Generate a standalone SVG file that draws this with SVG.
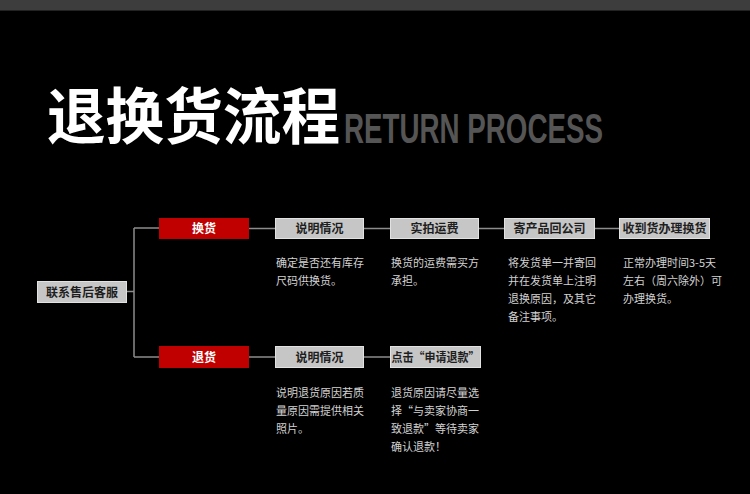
<svg xmlns="http://www.w3.org/2000/svg" width="750" height="494" viewBox="0 0 750 494">
<style>
.bg{fill:#000}
.gbox{fill:#c6c6c6;stroke:#e2e2e2;stroke-width:1}
.rbox{fill:#c00000}
.glbl{font-family:"Noto Sans CJK SC","Liberation Sans",sans-serif;font-size:12px;font-weight:bold;fill:#1e1e1e;text-anchor:middle}
.rlbl{font-family:"Noto Sans CJK SC","Liberation Sans",sans-serif;font-size:12px;font-weight:bold;fill:#fff;text-anchor:middle}
.desc{font-family:"Noto Sans CJK SC","Liberation Sans",sans-serif;font-size:11px;fill:#d2d2d2}
.conn{fill:none;stroke:#8c8c8c;stroke-width:1.5}
</style>
<rect class="bg" x="0" y="0" width="750" height="494"/>
<rect x="0" y="0" width="750" height="10" fill="#3d3d3d"/>
<rect x="0" y="10" width="750" height="1" fill="#222"/>
<g id="title">
<text x="47" y="139" font-family="Noto Sans CJK SC,sans-serif" font-size="61" font-weight="bold" fill="#fff" textLength="293" lengthAdjust="spacingAndGlyphs">退换货流程</text>
<text x="344" y="143" font-family="Liberation Sans,sans-serif" font-size="43" font-weight="bold" fill="#555" textLength="259" lengthAdjust="spacingAndGlyphs">RETURN PROCESS</text>
</g>
<g id="connectors">
<path class="conn" d="M127 291.5H134M134 228V357M134 228H159M134 357H159"/>
<path class="conn" d="M249 228.5H275M364 228.5H390M479 228.5H504M595 228.5H619"/>
<path class="conn" d="M249 357H275M364 357H390"/>
</g>
<g id="n-contact"><rect class="gbox" x="37.5" y="281.5" width="89" height="21"/><text class="glbl" x="82" y="296.5">联系售后客服</text></g>
<g id="n-exchange"><rect class="rbox" x="159" y="218" width="90" height="21"/><text class="rlbl" x="204" y="233">换货</text></g>
<g id="n-return"><rect class="rbox" x="159" y="346" width="90" height="22"/><text class="rlbl" x="204" y="361.5">退货</text></g>
<g id="n-ex-explain"><rect class="gbox" x="275.5" y="218.5" width="88" height="20"/><text class="glbl" x="319.5" y="233">说明情况</text>
<text class="desc"><tspan x="276" y="267">确定是否还有库存</tspan><tspan x="276" y="285">尺码供换货。</tspan></text></g>
<g id="n-ex-ship"><rect class="gbox" x="390.5" y="218.5" width="88" height="20"/><text class="glbl" x="434.5" y="233">实拍运费</text>
<text class="desc"><tspan x="391" y="267">换货的运费需买方</tspan><tspan x="391" y="285">承担。</tspan></text></g>
<g id="n-ex-send"><rect class="gbox" x="504.5" y="218.5" width="90" height="20"/><text class="glbl" x="549.5" y="233">寄产品回公司</text>
<text class="desc"><tspan x="508" y="267">将发货单一并寄回</tspan><tspan x="508" y="285">并在发货单上注明</tspan><tspan x="508" y="303">退换原因，及其它</tspan><tspan x="508" y="321">备注事项。</tspan></text></g>
<g id="n-ex-receive"><rect class="gbox" x="619.5" y="218.5" width="90" height="20"/><text class="glbl" x="664.5" y="233">收到货办理换货</text>
<text class="desc"><tspan x="623" y="267">正常办理时间3-5天</tspan><tspan x="623" y="285">左右（周六除外）可</tspan><tspan x="623" y="303">办理换货。</tspan></text></g>
<g id="n-re-explain"><rect class="gbox" x="275.5" y="346.5" width="88" height="21"/><text class="glbl" x="319.5" y="361.5">说明情况</text>
<text class="desc"><tspan x="276" y="397">说明退货原因若质</tspan><tspan x="276" y="415">量原因需提供相关</tspan><tspan x="276" y="433">照片。</tspan></text></g>
<g id="n-re-refund"><rect class="gbox" x="390.5" y="346.5" width="90" height="21"/><text class="glbl" x="435.5" y="361.5" textLength="88" lengthAdjust="spacingAndGlyphs">点击“申请退款”</text>
<text class="desc"><tspan x="391" y="397">退货原因请尽量选</tspan><tspan x="391" y="415">择“与卖家协商一</tspan><tspan x="391" y="433">致退款”等待卖家</tspan><tspan x="391" y="451">确认退款！</tspan></text></g>
</svg>
